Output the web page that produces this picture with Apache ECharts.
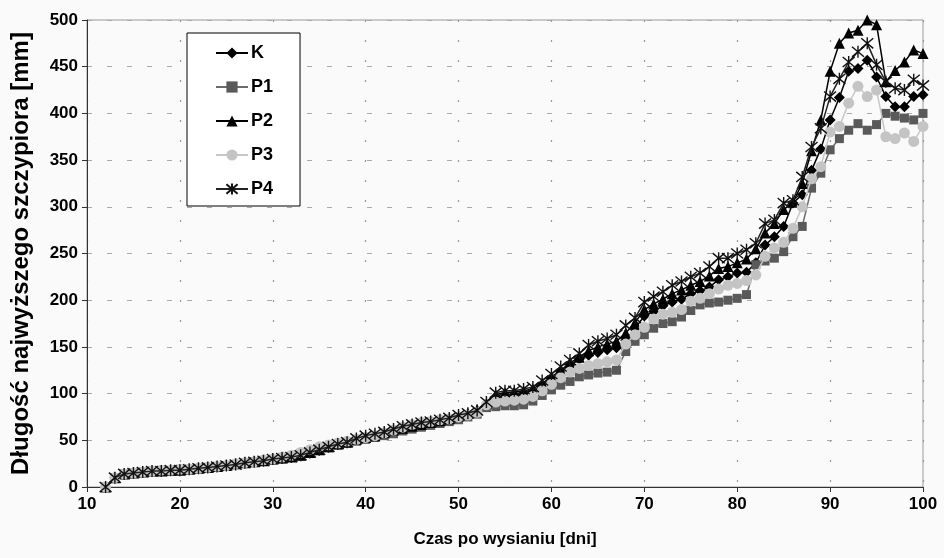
<!DOCTYPE html>
<html>
<head>
<meta charset="utf-8">
<script src="https://cdn.jsdelivr.net/npm/echarts@6/dist/echarts.min.js"></script>
<style>
html,body{margin:0;padding:0;background:#fafafa;}
#chart{width:944px;height:558px;}
</style>
</head>
<body>
<div id="chart"></div>
<script>
var days = [12,13,14,15,16,17,18,19,20,21,22,23,24,25,26,27,28,29,30,31,32,33,34,35,36,37,38,39,40,41,42,43,44,45,46,47,48,49,50,51,52,
  53,54,55,56,57,58,59,60,61,62,63,64,65,66,67,68,69,70,71,72,73,74,75,76,77,78,79,80,81,82,83,84,85,86,87,88,89,90,91,92,93,94,95,96,97,98,99,100];

var seriesNames = ['K','P1','P2','P3','P4'];

var valuesK = [0,10,14,15,16,17,17,18,18,19,20,21,22,23,25,26,27,28,30,31,32,34,37,40,43,46,48,51,53,55,57,60,63,65,67,69,71,73,75,78,81,
  88,95,97,98,99,102,109,116,123,131,137,141,144,147,149,157,170,183,188,194,198,201,207,210,214,222,225,229,230,240,259,268,279,304,313,339,362,393,417,445,448,457,439,418,407,407,418,420];

var valuesP1 = [0,10,14,15,16,17,17,17,18,19,20,21,22,23,24,26,27,28,29,30,32,33,36,39,42,45,47,49,51,53,55,57,60,62,64,66,68,70,72,75,78,
  85,86,87,87,88,92,98,104,109,113,118,120,122,123,125,145,156,163,170,175,177,182,189,195,197,198,200,202,206,238,242,245,252,268,279,320,336,361,373,382,389,382,388,400,397,395,393,400];

var valuesP2 = [0,10,14,15,16,17,17,18,18,19,20,21,22,23,25,26,27,28,30,31,32,34,37,40,43,46,48,51,53,55,58,61,63,65,67,69,71,73,76,79,83,
  90,99,101,102,103,105,111,118,125,133,139,146,150,153,156,165,176,190,196,201,207,211,216,220,226,234,236,240,244,255,272,282,297,305,325,360,393,445,475,486,489,500,495,434,446,455,468,464];

var valuesP3 = [0,10,14,15,16,17,18,18,19,19,20,21,22,23,25,26,27,29,30,32,34,37,40,43,45,47,49,51,53,55,58,61,64,67,69,70,72,73,75,77,80,
  88,91,92,93,94,97,103,110,117,123,127,130,132,134,136,153,163,171,180,185,187,190,199,202,207,212,216,218,221,227,247,256,262,277,300,330,343,380,386,411,429,418,425,375,373,379,370,386];

var valuesP4 = [0,10,14,15,16,17,17,18,18,19,20,21,22,23,24,26,27,28,30,31,32,34,37,40,43,46,48,52,55,57,59,62,65,67,69,70,72,74,77,79,82,
  91,101,103,103,105,107,114,121,129,136,143,152,156,159,163,173,181,198,204,209,216,220,225,229,236,245,245,250,254,261,282,286,304,307,332,364,384,418,437,455,466,475,452,434,427,425,436,430];

var xTitle = 'Czas po wysianiu [dni]';
var yTitle = 'Długość najwyższego szczypiora [mm]';

function pairs(vals){
  var out = [];
  for (var i = 0; i < days.length; i++) out.push([days[i], vals[i]]);
  return out;
}

var starPath = 'path://M5,0 L5,10 M0.8,0.8 L9.2,9.2 M0.8,9.2 L9.2,0.8';

var styles = [
  {vals: valuesK,  color:'#000000', line:'#000000', symbol:'diamond',  size:11},
  {vals: valuesP1, color:'#5a5a5a', line:'#6a6a6a', symbol:'rect',     size:9},
  {vals: valuesP2, color:'#000000', line:'#000000', symbol:'triangle', size:11},
  {vals: valuesP3, color:'#c4c4c4', line:'#c8c8c8', symbol:'circle',   size:11},
  {vals: valuesP4, color:'#111111', line:'#222222', symbol:starPath,   size:12}
];

var series = styles.map(function(s, i){
  var isStar = (i === 4);
  return {
    name: seriesNames[i],
    type: 'line',
    data: pairs(s.vals),
    symbol: s.symbol,
    symbolSize: s.size,
    showAllSymbol: true,
    animation: false,
    lineStyle: {color: s.line, width: 1.5},
    itemStyle: isStar ? {color: 'rgba(0,0,0,0)', borderColor: s.color, borderWidth: 1.4}
                      : {color: s.color, borderColor: s.color, borderWidth: 0},
    emphasis: {disabled: true},
    z: 2 + i
  };
});

var chart = echarts.init(document.getElementById('chart'));
chart.setOption({
  backgroundColor: '#fafafa',
  animation: false,
  textStyle: {fontFamily: 'Liberation Sans, Arial, sans-serif'},
  grid: {left: 87, right: 21, top: 20, bottom: 71, show: true, borderColor: '#9a9a9a', borderWidth: 1, backgroundColor: 'transparent'},
  legend: {
    orient: 'vertical',
    left: 187, top: 33,
    padding: [11, 27, 8, 28],
    itemGap: 16,
    itemWidth: 32,
    itemHeight: 14,
    backgroundColor: '#ffffff',
    borderColor: '#000000',
    borderWidth: 1,
    borderRadius: 0,
    textStyle: {fontSize: 18, fontWeight: 'bold', color: '#000', padding: [0,0,0,-2], fontFamily: 'Liberation Sans, Arial, sans-serif'},
    data: seriesNames
  },
  xAxis: {
    type: 'value',
    min: 10, max: 100, interval: 10,
    name: xTitle,
    nameLocation: 'middle',
    nameGap: 44,
    nameTextStyle: {fontSize: 17, fontWeight: 'bold', color: '#000'},
    axisLine: {lineStyle: {color: '#333', width: 1}},
    axisTick: {show: true, inside: false, length: 5, lineStyle: {color: '#333'}},
    axisLabel: {fontSize: 17, fontWeight: 'bold', color: '#000', margin: 9},
    splitLine: {show: true, lineStyle: {color: '#999', width: 1.2, type: [2, 18]}}
  },
  yAxis: {
    type: 'value',
    min: 0, max: 500, interval: 50,
    name: yTitle,
    nameLocation: 'middle',
    nameGap: 54,
    nameTextStyle: {fontSize: 24, fontWeight: 'bold', color: '#000'},
    axisLine: {show: true, lineStyle: {color: '#333', width: 1}},
    axisTick: {show: true, inside: false, length: 5, lineStyle: {color: '#333'}},
    axisLabel: {fontSize: 17, fontWeight: 'bold', color: '#000', margin: 9},
    splitLine: {show: true, lineStyle: {color: '#aaa', width: 1, type: [5, 15]}}
  },
  series: series
});
</script>
</body>
</html>
